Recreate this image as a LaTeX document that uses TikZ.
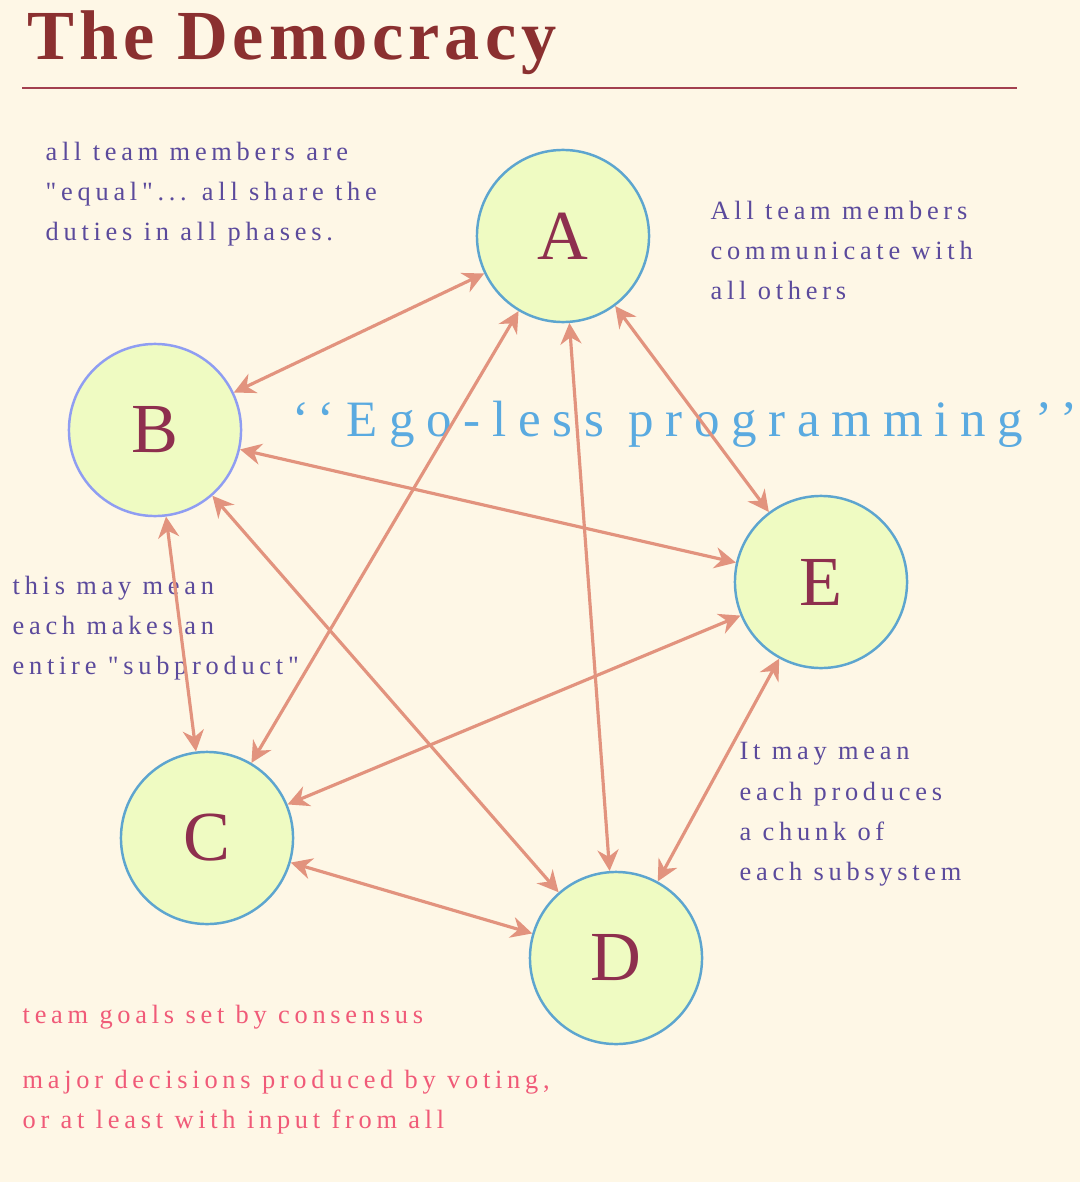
\documentclass[tikz,border=0pt]{standalone}
\usepackage{fontspec}
\setmainfont{Liberation Serif}[Ligatures=TeXOff]
\usepackage{xcolor}
\usepackage{tikz}
\usetikzlibrary{arrows.meta,positioning}
\definecolor{paper}{HTML}{FEF7E6}
\definecolor{titlered}{HTML}{8B3030}
\definecolor{rulered}{HTML}{A3404F}
\definecolor{bubble}{HTML}{EFFBC2}
\definecolor{rim}{HTML}{5DA5CF}
\definecolor{rimb}{HTML}{8F9DF2}
\definecolor{lettercol}{HTML}{8E2F4E}
\definecolor{linkcol}{HTML}{E2937E}
\definecolor{notecol}{HTML}{5B4A9C}
\definecolor{goalcol}{HTML}{F05A78}
\definecolor{egocol}{HTML}{5AAAE0}

\begin{document}
\begin{tikzpicture}[x=0.01cm, y=-0.01cm,
    member/.style={circle, draw=rim, fill=bubble, line width=0.7pt, minimum size=1.72cm, text=lettercol, font=\fontsize{20}{24}\selectfont},
    link/.style={<->, >={Stealth[length=6pt,width=6pt]}, draw=linkcol, line width=0.9pt},
    note/.style={anchor=north west, inner sep=0pt, align=left, text=notecol, font=\fontsize{7.5}{11.4}\selectfont\addfontfeature{LetterSpace=18}},
    goal/.style={note, text=goalcol}
]
\fill[paper] (0,0) rectangle (1080,1182);
\useasboundingbox (0,0) rectangle (1080,1182);
\node[anchor=base west, inner sep=0pt, text=titlered, font=\fontsize{20}{24}\selectfont\bfseries\addfontfeature{LetterSpace=7}] (title) at (27,60) {The Democracy};
\draw[rulered, line width=0.85pt] (22,88) -- (1017,88);

\node[note] (equal) at (45,141) {all team members are\\"equal"... all share the\\duties in all phases.};
\node[note] (talk) at (710,200) {All team members\\communicate with\\all others};
\node[note] (subprod) at (12,575) {this may mean\\each makes an\\entire "subproduct"};
\node[note] (chunk) at (739,742) {It may mean\\each produces\\a chunk of\\each subsystem};
\node[goal] (goals) at (22,1004) {team goals set by consensus};
\node[goal] (voting) at (22,1069) {major decisions produced by voting,\\or at least with input from all};
\node[anchor=base west, inner sep=0pt, text=egocol, font=\fontsize{14.5}{17}\selectfont\addfontfeature{LetterSpace=23}] (ego) at (292,436) {‘‘Ego-less programming’’};

\node[member] (A) at (563,236) {A};
\node[member, draw=rimb] (B) at (155,430) {B};
\node[member] (C) at (207,838) {C};
\node[member] (D) at (616,958) {D};
\node[member] (E) at (821,582) {E};

\draw[link] (A) -- (B);
\draw[link] (A) -- (C);
\draw[link] (A) -- (D);
\draw[link] (A) -- (E);
\draw[link] (B) -- (C);
\draw[link] (B) -- (D);
\draw[link] (B) -- (E);
\draw[link] (C) -- (D);
\draw[link] (C) -- (E);
\draw[link] (D) -- (E);
\end{tikzpicture}
\end{document}
